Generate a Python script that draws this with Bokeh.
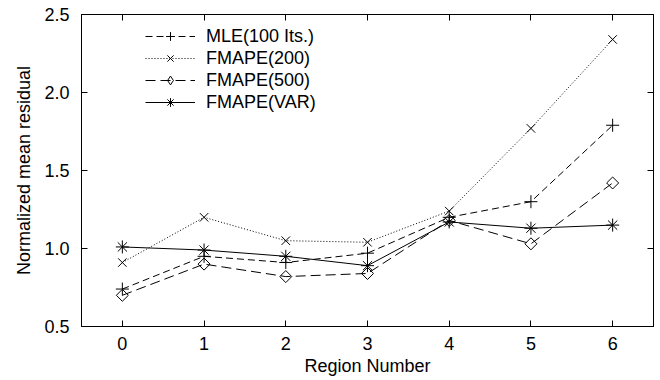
from bokeh.plotting import figure
from bokeh.models import Range1d, FixedTicker, LinearAxis, PrintfTickFormatter, Legend, LegendItem
from bokeh.embed import file_html
from bokeh.resources import INLINE

# ---- data ----
regions = [0, 1, 2, 3, 4, 5, 6]
mle_100 = [0.74, 0.95, 0.91, 0.97, 1.20, 1.30, 1.79]
fmape_200 = [0.91, 1.20, 1.05, 1.04, 1.24, 1.77, 2.34]
fmape_500 = [0.70, 0.90, 0.82, 0.84, 1.18, 1.03, 1.42]
fmape_var = [1.01, 0.99, 0.95, 0.89, 1.17, 1.13, 1.15]
series_names = ["MLE(100 Its.)", "FMAPE(200)", "FMAPE(500)", "FMAPE(VAR)"]
x_ticks = [0, 1, 2, 3, 4, 5, 6]
y_ticks = [0.5, 1.0, 1.5, 2.0, 2.5]

FONT = "Liberation Sans"
FS = "18px"
W, H = 660, 380
B_LEFT, B_TOP = 81, 14
FRAME_W, FRAME_H = 572, 312
B_RIGHT = W - B_LEFT - FRAME_W
B_BOTTOM = H - B_TOP - FRAME_H

p = figure(width=W, height=H,
           x_range=Range1d(-0.5, 6.5), y_range=Range1d(0.5, 2.5),
           output_backend="svg", toolbar_location=None,
           x_axis_label="Region Number", y_axis_label="Normalized mean residual",
           min_border_left=B_LEFT, min_border_right=B_RIGHT,
           min_border_top=B_TOP, min_border_bottom=B_BOTTOM)
p.grid.visible = False
p.outline_line_color = "black"
p.outline_line_width = 1
p.background_fill_color = "white"
p.border_fill_color = "white"

for ax in p.xaxis + p.yaxis:
    ax.axis_line_color = "black"
    ax.major_tick_in = 6
    ax.major_tick_out = 0
    ax.minor_tick_line_color = None
    ax.major_label_text_font = FONT
    ax.major_label_text_font_size = FS
    ax.major_label_text_color = "black"
    ax.axis_label_text_font = FONT
    ax.axis_label_text_font_size = FS
    ax.axis_label_text_font_style = "normal"
    ax.axis_label_text_color = "black"

p.xaxis.ticker = FixedTicker(ticks=x_ticks)
p.yaxis.ticker = FixedTicker(ticks=y_ticks)
p.yaxis.formatter = PrintfTickFormatter(format="%.1f")
p.xaxis.major_label_standoff = 10
p.xaxis.axis_label_standoff = 3
p.yaxis.major_label_standoff = 12
p.yaxis.axis_label_standoff = 7

# mirrored tick axes (top and right), ticks only
top_ax = LinearAxis(ticker=FixedTicker(ticks=x_ticks), major_tick_in=6, major_tick_out=0,
                    minor_tick_line_color=None, major_label_text_color=None,
                    major_label_standoff=0, axis_line_color="black")
right_ax = LinearAxis(ticker=FixedTicker(ticks=y_ticks), major_tick_in=6, major_tick_out=0,
                      minor_tick_line_color=None, major_label_text_color=None,
                      major_label_standoff=0, axis_line_color="black")
p.add_layout(top_ax, "above")
p.add_layout(right_ax, "right")

styles = [
    dict(vals=mle_100, dash="7 4", marker="cross", size=13, angle=0.0, legend_marker=None),
    dict(vals=fmape_200, dash="1 2", marker="x", size=12, angle=0.0, legend_marker=None),
    dict(vals=fmape_500, dash="10 5", marker="square", size=8.5, angle=0.785398, legend_marker="diamond"),
    dict(vals=fmape_var, dash="solid", marker="asterisk", size=13, angle=0.0, legend_marker=None),
]

items = []
for name, st in zip(series_names, styles):
    ln = p.line(regions, st["vals"], line_color="black", line_width=1, line_dash=st["dash"])
    sc = p.scatter(regions, st["vals"], marker=st["marker"], size=st["size"], angle=st["angle"],
                   line_color="black", line_width=1, fill_color=None)
    if st["legend_marker"] is None:
        items.append(LegendItem(label=name, renderers=[ln, sc]))
    else:
        # hidden twin renderer used only for the legend sample (legend ignores marker angle)
        lg = p.scatter(regions, st["vals"], marker=st["legend_marker"], size=st["size"],
                       line_color="black", line_width=1, fill_color=None, visible=False)
        items.append(LegendItem(label=name, renderers=[ln, lg]))

ROW_H = 22
legend_h = 4 * ROW_H
legend = Legend(items=items, location=(64, FRAME_H - (22 - ROW_H // 2) - legend_h),
                glyph_width=50, glyph_height=ROW_H, label_height=ROW_H, spacing=0,
                label_standoff=11, padding=0, margin=0,
                border_line_alpha=0, background_fill_alpha=0,
                label_text_font=FONT, label_text_font_size=FS, label_text_color="black")
p.add_layout(legend, "center")

open("out.html", "w").write(file_html(p, INLINE))
